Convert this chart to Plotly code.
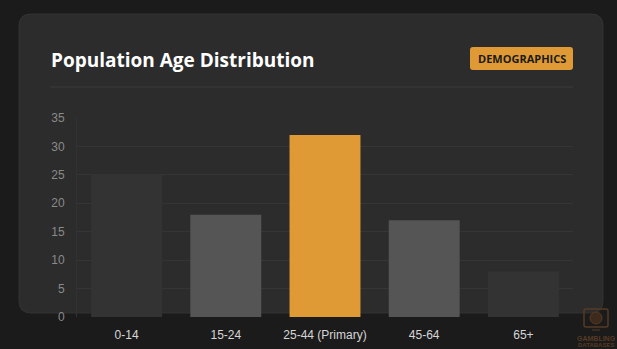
import plotly.graph_objects as go

# Age groups and population share (%)
age_groups = ["0-14", "15-24", "25-44 (Primary)", "45-64", "65+"]
population_pct = [25, 18, 32, 17, 8]
bar_colors = ["#333333", "#555555", "#e09a35", "#555555", "#333333"]
y_ticks = [0, 5, 10, 15, 20, 25, 30, 35]

W, H = 617, 349
PL, PR, PT, PB = 77, 573, 118, 317  # plot area in pixels


def px(x):
    return (x - PL) / (PR - PL)


def py(y):
    return (PB - y) / (PB - PT)


def rounded_rect(x0, y0, x1, y1, r):
    return (
        f"M {px(x0 + r)} {py(y0)} L {px(x1 - r)} {py(y0)} "
        f"Q {px(x1)} {py(y0)} {px(x1)} {py(y0 + r)} "
        f"L {px(x1)} {py(y1 - r)} Q {px(x1)} {py(y1)} {px(x1 - r)} {py(y1)} "
        f"L {px(x0 + r)} {py(y1)} Q {px(x0)} {py(y1)} {px(x0)} {py(y1 - r)} "
        f"L {px(x0)} {py(y0 + r)} Q {px(x0)} {py(y0)} {px(x0 + r)} {py(y0)} Z"
    )


fig = go.Figure(
    go.Bar(
        x=age_groups,
        y=population_pct,
        marker=dict(color=bar_colors, line=dict(width=0)),
        hoverinfo="x+y",
    )
)

WM = "#573a24"  # watermark tint

shapes = [
    # card
    dict(type="path", xref="paper", yref="paper", layer="below",
         path=rounded_rect(19, 14, 603, 313, 12),
         fillcolor="#2c2c2c", line=dict(color="#333333", width=1)),
    # header divider
    dict(type="line", xref="paper", yref="paper", layer="below",
         x0=px(50), x1=px(573), y0=py(87), y1=py(87),
         line=dict(color="#3a3a3a", width=1)),
    # badge
    dict(type="path", xref="paper", yref="paper", layer="below",
         path=rounded_rect(470, 47, 573, 70, 3),
         fillcolor="#e09a35", line=dict(width=0)),
    # watermark logo: screen outline with a wheel inside
    dict(type="path", xref="paper", yref="paper", layer="above",
         path=rounded_rect(584, 309, 608, 327, 2),
         fillcolor="rgba(0,0,0,0)", line=dict(color=WM, width=1.5)),
    dict(type="circle", xref="paper", yref="paper", layer="above",
         x0=px(590), x1=px(602), y0=py(312), y1=py(324),
         fillcolor="#3e2a1c", line=dict(color=WM, width=1)),
    dict(type="line", xref="paper", yref="paper", layer="above",
         x0=px(592), x1=px(600), y0=py(330), y1=py(330),
         line=dict(color=WM, width=1)),
]

annotations = [
    dict(text="<b>Population Age Distribution</b>", xref="paper", yref="paper",
         x=px(49), y=py(60), xanchor="left", yanchor="middle", showarrow=False,
         font=dict(family="Open Sans", size=19, color="#ffffff")),
    dict(text="<b>DEMOGRAPHICS</b>", xref="paper", yref="paper",
         x=px(521.5), y=py(59), xanchor="center", yanchor="middle", showarrow=False,
         font=dict(family="Open Sans", size=11, color="#1a1a1a")),
    dict(text="<b>GAMBLING</b>", xref="paper", yref="paper",
         x=px(596), y=py(338), xanchor="center", yanchor="middle", showarrow=False,
         font=dict(family="Liberation Sans", size=7, color=WM)),
    dict(text="<b>DATABASES</b>", xref="paper", yref="paper",
         x=px(596), y=py(345), xanchor="center", yanchor="middle", showarrow=False,
         font=dict(family="Liberation Sans", size=6, color=WM)),
]

fig.update_layout(
    width=W, height=H,
    margin=dict(l=PL, r=W - PR, t=PT, b=H - PB, pad=0, autoexpand=False),
    paper_bgcolor="#1b1b1b",
    plot_bgcolor="rgba(0,0,0,0)",
    bargap=0.285,
    showlegend=False,
    shapes=shapes,
    annotations=annotations,
    xaxis=dict(
        automargin=False,
        showgrid=False, zeroline=False, showline=False, ticks="",
        tickfont=dict(family="Liberation Sans", size=12, color="#d6d6d6"),
        ticklabelstandoff=9,
    ),
    yaxis=dict(
        automargin=False,
        range=[0, 35], tickvals=y_ticks,
        showgrid=True, gridcolor="#353535", gridwidth=1,
        zeroline=False, showline=True, linecolor="#323232", linewidth=1,
        ticks="", ticklabelstandoff=9,
        tickfont=dict(family="Liberation Sans", size=12, color="#8a8a8a"),
    ),
)

fig.write_html("out.html")
